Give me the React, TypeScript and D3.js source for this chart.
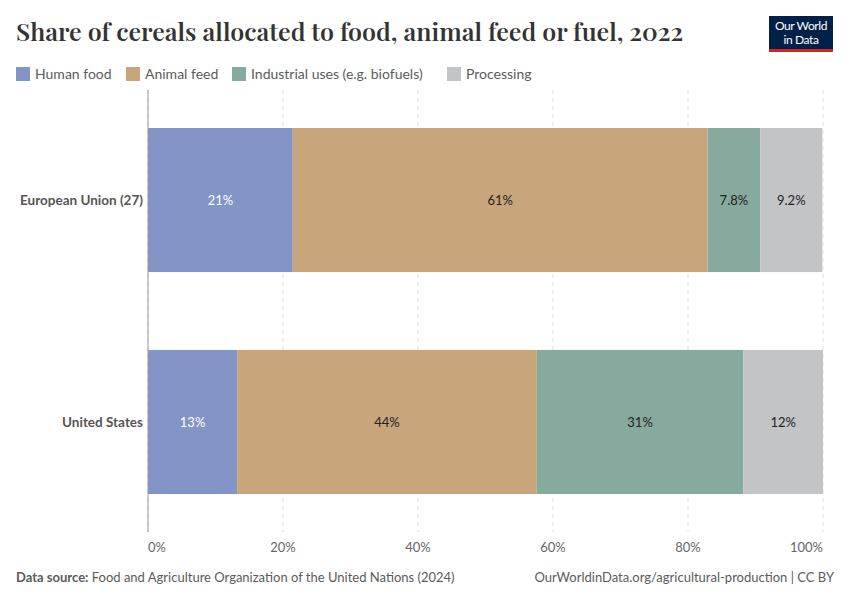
import React from 'react';
import * as d3 from 'd3';

const countries = ['European Union (27)', 'United States'];
const seriesNames = ['Human food', 'Animal feed', 'Industrial uses (e.g. biofuels)', 'Processing'];
const seriesColors = ['#8394c6', '#c8a57b', '#86aa9e', '#c3c4c6'];
const labelColors = ['#ffffff', '#222222', '#222222', '#222222'];
const humanFood = [21.45, 13.2];
const animalFeed = [61.45, 44.4];
const industrialUses = [7.8, 30.6];
const processing = [9.2, 11.8];
const xTicks = [0, 20, 40, 60, 80, 100];

const width = 850;
const height = 600;
const sans = 'Lato, "Noto Sans", sans-serif';

const fmt = (v: number) => (v < 10 ? `${v.toFixed(1)}%` : `${Math.round(v)}%`);

export default function App() {
  const x = d3.scaleLinear().domain([0, 100]).range([148, 823]);
  const y = d3.scaleBand().domain(countries).range([128, 494]).paddingInner(0.351).paddingOuter(0);

  const rows = countries.map((c, i) => ({
    country: c,
    human: humanFood[i],
    animal: animalFeed[i],
    industrial: industrialUses[i],
    processing: processing[i],
  }));
  const stack = d3.stack<any>().keys(['human', 'animal', 'industrial', 'processing'])(rows);

  const legendX = [16, 126, 232, 447];

  return (
    <svg width={width} height={height} style={{ display: 'block', margin: -8, background: '#fff' }}>
      <text x={16} y={41} fontFamily='"Playfair Display", "DejaVu Serif", Georgia, serif' fontSize={25} fontWeight={600} fill="#333">
        Share of cereals allocated to food, animal feed or fuel, 2022
      </text>

      <g>
        <rect x={769} y={16} width={64} height={36} fill="#002147" />
        <rect x={769} y={49} width={64} height={3} fill="#ce261e" />
        <text x={801} y={30} textAnchor="middle" fontFamily={sans} fontSize={12} fill="#fff" letterSpacing={-0.4}>Our World</text>
        <text x={801} y={44} textAnchor="middle" fontFamily={sans} fontSize={12} fill="#fff" letterSpacing={-0.4}>in Data</text>
      </g>

      {seriesNames.map((s, i) => (
        <g key={s}>
          <rect x={legendX[i]} y={67} width={14} height={14} fill={seriesColors[i]} />
          <text x={legendX[i] + 19} y={79} fontFamily={sans} fontSize={14} fill="#5b5b5b">{s}</text>
        </g>
      ))}

      {xTicks.map((t) => (
        <line key={t} x1={x(t)} x2={x(t)} y1={90} y2={532} stroke="#ddd" strokeDasharray="4,4" />
      ))}

      {stack.map((layer, si) =>
        layer.map((d, ci) => {
          const x0 = x(d[0]);
          const x1 = x(d[1]);
          const yy = y(countries[ci])!;
          const v = d[1] - d[0];
          return (
            <g key={`${si}-${ci}`}>
              <rect x={x0} y={yy} width={x1 - x0} height={y.bandwidth()} fill={seriesColors[si]} />
              <text x={(x0 + x1) / 2} y={yy + y.bandwidth() / 2 + 5} textAnchor="middle" fontFamily={sans} fontSize={13} fill={labelColors[si]}>
                {fmt(v)}
              </text>
            </g>
          );
        })
      )}

      {countries.map((c) => (
        <text key={c} x={143} y={y(c)! + y.bandwidth() / 2 + 5} textAnchor="end" fontFamily={sans} fontSize={13.5} fontWeight={700} fill="#555">
          {c}
        </text>
      ))}

      <line x1={148} x2={148} y1={90} y2={532} stroke="#999" />

      {xTicks.map((t, i) => (
        <text key={t} x={x(t)} y={552}
          textAnchor={i === 0 ? 'start' : i === xTicks.length - 1 ? 'end' : 'middle'}
          fontFamily={sans} fontSize={13} fill="#666">
          {t}%
        </text>
      ))}

      <text x={16} y={582} fontFamily={sans} fontSize={13} fill="#5b5b5b">
        <tspan fontWeight={700}>Data source:</tspan> Food and Agriculture Organization of the United Nations (2024)
      </text>
      <text x={834} y={582} textAnchor="end" fontFamily={sans} fontSize={13} fill="#5b5b5b">
        OurWorldinData.org/agricultural-production | CC BY
      </text>
    </svg>
  );
}
